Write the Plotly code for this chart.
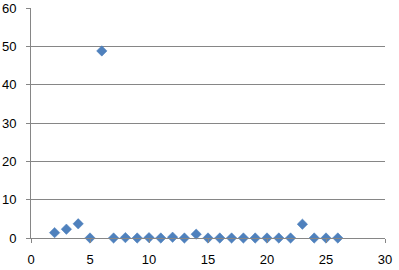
import plotly.graph_objects as go

x_vals = [2, 3, 4, 5, 6, 7, 8, 9, 10, 11, 12, 13, 14, 15, 16, 17, 18, 19, 20, 21, 22, 23, 24, 25, 26]
y_vals = [1.4, 2.3, 3.7, 0, 48.8, 0, 0.1, 0, 0.1, 0, 0.2, 0, 1.0, 0, 0, 0, 0, 0, 0, 0, 0, 3.6, 0, 0, 0]

x_ticks = [0, 5, 10, 15, 20, 25, 30]
y_ticks = [0, 10, 20, 30, 40, 50, 60]

fig = go.Figure()
fig.add_trace(go.Scatter(
    x=x_vals, y=y_vals, mode="markers",
    marker=dict(symbol="diamond", size=8, color="#4F81BD", line=dict(width=0.5, color="#4A7EBB")),
    showlegend=False, cliponaxis=False,
))

grid = "#868686"
fig.update_layout(
    width=399, height=270,
    margin=dict(l=31, r=14, t=8, b=32),
    paper_bgcolor="white", plot_bgcolor="white",
    font=dict(family="Liberation Sans, Arial, sans-serif", size=13, color="#000000"),
    xaxis=dict(range=[0, 30], tickvals=x_ticks, showgrid=False, zeroline=False,
               showline=True, linecolor=grid, linewidth=1, automargin=False,
               ticks="outside", ticklen=4, tickcolor=grid, ticklabelstandoff=5),
    yaxis=dict(range=[0, 60], tickvals=y_ticks, showgrid=True, gridcolor=grid, gridwidth=1,
               zeroline=False, showline=True, linecolor=grid, linewidth=1, automargin=False,
               ticks="outside", ticklen=4, tickcolor=grid, ticklabelstandoff=7),
)

fig.write_html("out.html")
